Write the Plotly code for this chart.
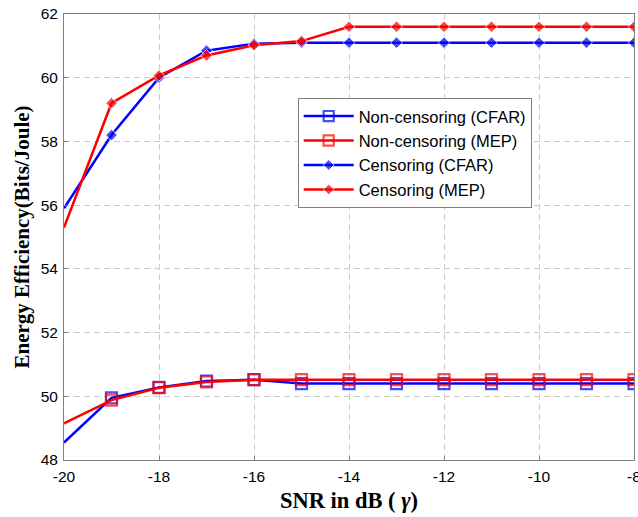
import plotly.graph_objects as go

snr = [-20, -19, -18, -17, -16, -15, -14, -13, -12, -11, -10, -9, -8]
noncens_cfar = [48.55, 49.95, 50.28, 50.48, 50.52, 50.40, 50.40, 50.40, 50.40, 50.40, 50.40, 50.40, 50.40]
noncens_mep = [49.15, 49.88, 50.27, 50.45, 50.52, 50.52, 50.52, 50.52, 50.52, 50.52, 50.52, 50.52, 50.52]
cens_cfar = [55.9, 58.2, 60.0, 60.85, 61.07, 61.1, 61.1, 61.1, 61.1, 61.1, 61.1, 61.1, 61.1]
cens_mep = [55.3, 59.2, 60.07, 60.7, 61.02, 61.15, 61.6, 61.6, 61.6, 61.6, 61.6, 61.6, 61.6]

x_ticks = [-20, -18, -16, -14, -12, -10, -8]
x_ticklabels = ["-20", "-18", "-16", "-14", "-12", "-10", "-8"]
y_ticks = [48, 50, 52, 54, 56, 58, 60, 62]

BLUE = "#0000ff"
RED = "#ff0000"

def sizes(n, s):
    return [0] + [s] * (n - 1)

fig = go.Figure()
fig.add_trace(go.Scatter(x=snr, y=noncens_cfar, name="Non-censoring (CFAR)", mode="lines+markers",
                         line=dict(color=BLUE, width=2.5),
                         marker=dict(symbol="square-open", size=sizes(len(snr), 11), color=BLUE, line=dict(width=2.2, color=BLUE))))
fig.add_trace(go.Scatter(x=snr, y=noncens_mep, name="Non-censoring (MEP)", mode="lines+markers",
                         line=dict(color=RED, width=2.5),
                         marker=dict(symbol="square-open", size=sizes(len(snr), 11), color=RED, line=dict(width=2.2, color=RED))))
fig.add_trace(go.Scatter(x=snr, y=cens_cfar, name="Censoring (CFAR)", mode="lines+markers",
                         line=dict(color=BLUE, width=2.5),
                         marker=dict(symbol="diamond", size=sizes(len(snr), 9), color=BLUE)))
fig.add_trace(go.Scatter(x=snr, y=cens_mep, name="Censoring (MEP)", mode="lines+markers",
                         line=dict(color=RED, width=2.5),
                         marker=dict(symbol="diamond", size=sizes(len(snr), 9), color=RED)))

axis_common = dict(showline=True, linecolor="#808080", linewidth=1, mirror=True,
                   showgrid=True, gridcolor="#cccccc", griddash="6px,4px", gridwidth=1,
                   zeroline=False, ticks="inside", ticklen=4, tickcolor="#808080",
                   automargin=False, ticklabeloverflow="allow",
                   tickfont=dict(family="Liberation Sans, Arial", size=15.5, color="#000"))

fig.update_xaxes(range=[-20, -8], tickvals=x_ticks, ticktext=x_ticklabels,
                 ticklabelstandoff=2,
                 title=dict(text="<b>SNR in dB ( <i>γ</i>)</b>",
                            font=dict(family="Liberation Serif, Times New Roman", size=22.5, color="#000"),
                            standoff=8),
                 **axis_common)
fig.update_yaxes(range=[48, 62], tickvals=y_ticks,
                 ticklabelstandoff=2,
                 title=dict(text="<b>Energy Efficiency(Bits/Joule)</b>",
                            font=dict(family="Liberation Serif, Times New Roman", size=21, color="#000"),
                            standoff=5),
                 **axis_common)

fig.update_layout(
    width=638, height=517,
    margin=dict(l=64, r=4, t=14, b=57, autoexpand=False),
    plot_bgcolor="white", paper_bgcolor="white",
    showlegend=True,
    legend=dict(x=0.41, y=0.812, xanchor="left", yanchor="top",
                bgcolor="white", bordercolor="#808080", borderwidth=1,
                font=dict(family="Liberation Sans, Arial", size=16.5, color="#000"),
                itemwidth=50, tracegroupgap=0),
)

fig.write_html("out.html", config={"displayModeBar": False},
               post_script="document.body.style.margin='0px';document.body.style.overflow='hidden';")
